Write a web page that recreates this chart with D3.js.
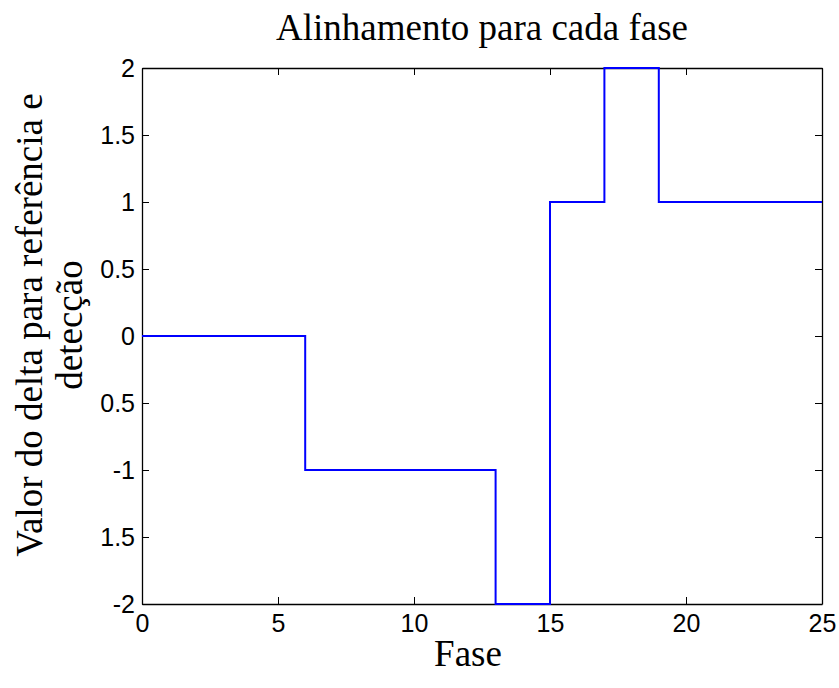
<!DOCTYPE html>
<html><head><meta charset="utf-8">
<script src="https://cdn.jsdelivr.net/npm/d3@7"></script>
<style>body{margin:0;background:#fff}svg{display:block}</style>
</head><body>
<script>
const fase = [0, 6, 13, 15, 17, 19, 25];
const delta = [0, -1, -2, 1, 2, 1, 1];
const xTicks = [0, 5, 10, 15, 20, 25];
const yTicks = [-2, -1.5, -1, -0.5, 0, 0.5, 1, 1.5, 2];
const yTickLabels = ["-2", "1.5", "-1", "0.5", "0", "0.5", "1", "1.5", "2"];
const title = "Alinhamento para cada fase";
const xTitle = "Fase";
const yTitleLines = ["Valor do delta para referência e", "detecção"];

const W = 839, H = 688;
const m = {left: 142, right: 17, top: 68, bottom: 84};
const svg = d3.select("body").append("svg").attr("width", W).attr("height", H);
const x = d3.scaleLinear().domain([0, 25]).range([m.left, W - m.right]);
const y = d3.scaleLinear().domain([-2, 2]).range([H - m.bottom, m.top]);

const tickFont = "Liberation Sans, Arial, Helvetica, sans-serif";
const serif = "Liberation Serif, Times New Roman, serif";

// axes (box with inward ticks)
const tl = 7;
const gB = svg.append("g").attr("transform", `translate(0,${y(-2)})`)
  .call(d3.axisBottom(x).tickValues(xTicks).tickSizeInner(-tl).tickSizeOuter(0).tickPadding(10));
const gT = svg.append("g").attr("transform", `translate(0,${y(2)})`)
  .call(d3.axisTop(x).tickValues(xTicks).tickSizeInner(-tl).tickSizeOuter(0).tickFormat(""));
const gL = svg.append("g").attr("transform", `translate(${x(0)},0)`)
  .call(d3.axisLeft(y).tickValues(yTicks).tickSizeInner(-tl).tickSizeOuter(0).tickPadding(7)
    .tickFormat((d, i) => yTickLabels[i]));
const gR = svg.append("g").attr("transform", `translate(${x(25)},0)`)
  .call(d3.axisRight(y).tickValues(yTicks).tickSizeInner(-tl).tickSizeOuter(0).tickFormat(""));

[gB, gT, gL, gR].forEach(g => {
  g.select(".domain").attr("stroke", "#000").attr("stroke-width", 1.3);
  g.selectAll(".tick line").attr("stroke", "#000").attr("stroke-width", 1);
  g.selectAll("text").attr("font-family", tickFont).attr("font-size", 25).attr("fill", "#000");
});
gB.selectAll(".tick text").attr("dy", "0.71em");

// data line (drawn over the box)
const pts = fase.map((f, i) => [f, delta[i]]);
svg.append("path").datum(pts)
  .attr("fill", "none").attr("stroke", "#0000ff").attr("stroke-width", 2)
  .attr("d", d3.line().x(d => x(d[0])).y(d => y(d[1])).curve(d3.curveStepAfter));

// title
svg.append("text").attr("x", x(12.5)).attr("y", 40).attr("text-anchor", "middle")
  .attr("font-family", serif).attr("font-size", 37).text(title);
// x label
svg.append("text").attr("x", 468).attr("y", 666).attr("text-anchor", "middle")
  .attr("font-family", serif).attr("font-size", 37).text(xTitle);
// y label
const yl = svg.append("text").attr("transform", `translate(42,325) rotate(-90)`)
  .attr("text-anchor", "middle").attr("font-family", serif).attr("font-size", 37);
yTitleLines.forEach((t, i) => yl.append("tspan").attr("x", 0).attr("dy", i === 0 ? 0 : 40).text(t));
</script>
</body></html>
